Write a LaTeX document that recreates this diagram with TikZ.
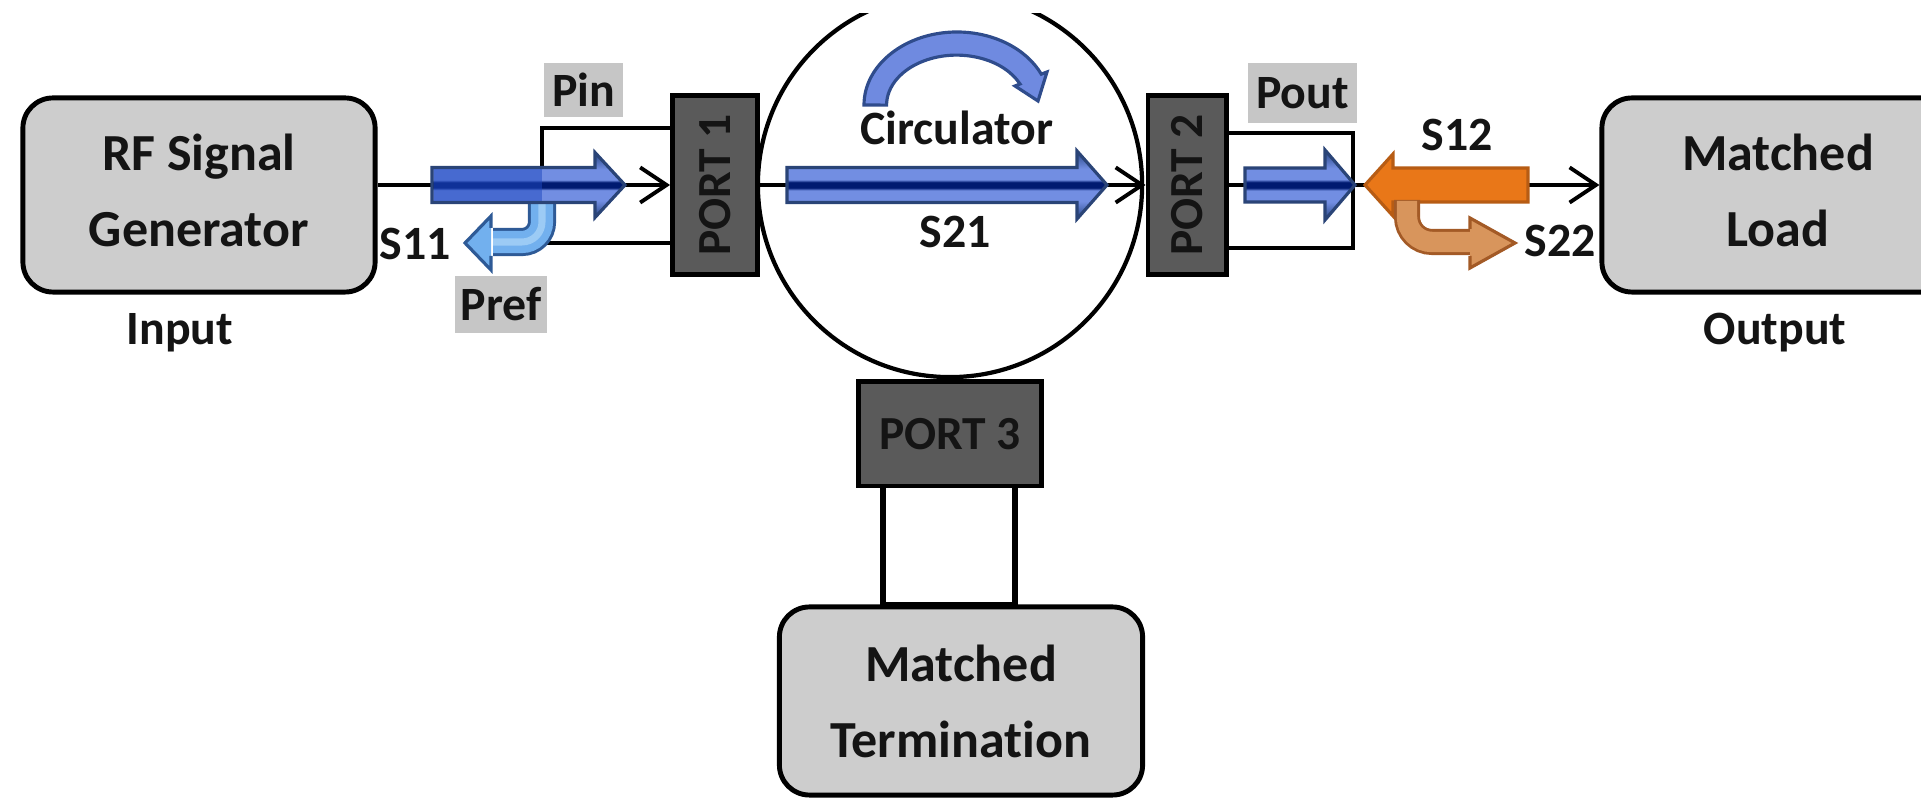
\documentclass[tikz,border=0pt]{standalone}
\usepackage{fontspec}
\setmainfont{Carlito}[Ligatures=NoCommon]
\usepackage{graphicx}
\usetikzlibrary{arrows.meta}

\definecolor{boxgray}{HTML}{CDCDCD}
\definecolor{lblgray}{HTML}{C6C6C6}
\definecolor{portgray}{HTML}{5A5A5A}
\definecolor{inkc}{HTML}{141414}
\definecolor{bmed}{HTML}{365497}
\definecolor{blight}{HTML}{728EE2}
\definecolor{bnavy}{HTML}{001A70}
\definecolor{bline}{HTML}{2A4477}
\definecolor{bsat}{HTML}{1E48C0}
\definecolor{skyfill}{HTML}{72B0EE}
\definecolor{skylight}{HTML}{9CCBF5}
\definecolor{skyline}{HTML}{2E5A96}
\definecolor{orfill}{HTML}{E97718}
\definecolor{orline}{HTML}{B75C14}
\definecolor{tanfill}{HTML}{D8955C}
\definecolor{tanline}{HTML}{A35A26}
\definecolor{arcfill}{HTML}{6F8AE0}
\definecolor{arcline}{HTML}{2F4C8C}

% banded fill of the blue block arrows
\pgfdeclareverticalshading{bluebar}{100bp}{color(0bp)=(bmed); color(28bp)=(bmed);
  color(38bp)=(blight); color(46bp)=(blight); color(48bp)=(bnavy); color(52bp)=(bnavy);
  color(54bp)=(blight); color(62bp)=(blight); color(72bp)=(bmed); color(100bp)=(bmed)}

% straight block arrow: [style]{tail x}{tip x}{y}{shaft half}{head half}{head length (signed)}
\newcommand\blockarrow[7][]{%
  \path[#1] (#2,{#4-#5}) -- ({#3-#7},{#4-#5}) -- ({#3-#7},{#4-#6}) -- (#3,#4)
    -- ({#3-#7},{#4+#6}) -- ({#3-#7},{#4+#5}) -- (#2,{#4+#5}) -- cycle;}

\begin{document}
\begin{tikzpicture}[x=0.01cm, y=-0.01cm,
  box/.style={draw=black, line width=1.4pt, fill=boxgray, rounded corners=0.3cm,
    align=center, text=inkc, inner sep=0,
    font=\bfseries\fontsize{14.8}{21.6}\selectfont},
  port/.style={draw=black, line width=1.4pt, fill=portgray, text=inkc, inner sep=0,
    font=\bfseries\fontsize{13.5}{16}\selectfont},
  lbl/.style={text=inkc, inner sep=0, font=\bfseries\fontsize{13.6}{16}\selectfont},
  tag/.style={lbl, fill=lblgray},
  conn/.style={line width=1.1pt, -{Straight Barb[length=7.5pt,width=10pt]}},
  frame/.style={line width=1.3pt},
  bluearrow/.style={shade, shading=bluebar, draw=bline, line width=0.9pt, line join=miter},
  orarrow/.style={fill=orfill, draw=orline, line width=0.9pt, line join=miter}]

\useasboundingbox (0,0) rectangle (1921,798);
\clip (0,0) rectangle (1921,798);

% circulator body
\begin{scope}
  \clip (0,14) rectangle (1921,798);
  \node[circle, draw, line width=1.2pt, minimum size=3.84cm, inner sep=0] (circ) at (950,185) {};
\end{scope}

% helper coordinates for the port frames
\coordinate (pinL) at (542,128);
\coordinate (pinB) at (542,243);
\coordinate (poutR) at (1353,133);
\coordinate (poutB) at (1353,248);
\coordinate (lk1) at (883,0);
\coordinate (lk2) at (1015,0);

% ports (placed first so frames can refer to them, drawn over by nothing)
\node[port, minimum width=0.85cm, minimum height=1.78cm] (p1) at (715,185) {\rotatebox{90}{PORT 1}};
\node[port, minimum width=0.78cm, minimum height=1.78cm] (p2) at (1187,185) {\rotatebox{90}{PORT 2}};
\node[port, minimum width=1.82cm, minimum height=1.04cm] (p3) at (950,434) {PORT 3};

% blocks
\node[box, minimum width=3.52cm, minimum height=1.94cm] (rf) at (199,195)
  {RF Signal\\Generator\rule[-2.6pt]{0pt}{2.6pt}};
\node[box, minimum width=3.52cm, minimum height=1.94cm] (load) at (1778,195)
  {Matched\\Load\rule[-2.6pt]{0pt}{2.6pt}};
\node[box, minimum width=3.63cm, minimum height=1.88cm] (term) at (961,701)
  {Matched\\Termination};

% signal path
\draw[conn] (rf.east |- p1.west) -- (p1.west);
\draw[conn] (p1.east) -- (p2.west);
\draw[conn] (p2.east) -- (load.west |- p2.east);

% frames at the ports
\draw[frame] (p1.west |- pinL) -- (pinL) -- (pinB) -- (p1.west |- pinB);
\draw[frame] (p2.east |- poutR) -- (poutR) -- (poutB) -- (p2.east |- poutB);
\draw[frame, line width=1.5pt] (p3.south -| lk1) -- (term.north -| lk1)
  -- (term.north -| lk2) -- (p3.south -| lk2);

% reflected wave at the input
\draw[skyline, line width=8pt, rounded corners=0.2cm] (542,196) -- (542,242) -- (493,242);
\draw[skyfill, line width=6.3pt, rounded corners=0.2cm] (542,196) -- (542,242) -- (493,242);
\draw[skylight, line width=2pt, rounded corners=0.2cm] (542,198) -- (542,242) -- (493,242);
\fill[skyfill] (491,216) -- (465,243) -- (491,270) -- cycle;
\draw[skyline, line width=0.9pt, line join=miter] (491,228) -- (491,216) -- (465,243) -- (491,270) -- (491,256);

% incident and transmitted waves
\blockarrow[bluearrow]{432}{625}{185}{17.5}{32.5}{30}
\fill[bsat, opacity=.5] (434,169) rectangle (542,201);
\blockarrow[bluearrow]{787}{1107}{185}{17.5}{34}{30}
\blockarrow[bluearrow]{1245}{1355}{185}{17}{35}{30}

% wave travelling back from the load, and its reflection
\blockarrow[orarrow]{1528}{1365}{185}{17}{31}{-28}
\draw[tanline, line width=7.4pt, rounded corners=0.25cm] (1407,200) -- (1407,242) -- (1472,242);
\draw[tanfill, line width=5.8pt, rounded corners=0.25cm] (1407,201) -- (1407,242) -- (1472,242);
\fill[tanfill] (1470,218) -- (1515,243) -- (1470,268) -- cycle;
\draw[tanline, line width=0.9pt, line join=miter] (1470,229) -- (1470,218) -- (1515,243) -- (1470,268) -- (1470,256);

% sense of rotation of the circulator
\path[fill=arcfill, draw=arcline, line width=0.9pt, line join=miter]
  (864,105) arc[start angle=180, end angle=335, x radius=93, y radius=73]
  -- (1047,72) -- (1038,101) -- (1015,86) -- (1020,84)
  arc[start angle=335, end angle=180, x radius=70, y radius=50] -- cycle;

% power tags
\node[tag, minimum width=0.79cm, minimum height=0.54cm] (pin) at (583.5,90) {Pin};
\node[tag, minimum width=0.92cm, minimum height=0.57cm] (pref) at (501,304.5) {Pref};
\node[tag, minimum width=1.09cm, minimum height=0.60cm] (pout) at (1302.5,93) {Pout};

% labels
\node[lbl, anchor=base] (tin) at (180,345) {Input};
\node[lbl, anchor=base] (tout) at (1775,345) {Output};
\node[lbl, anchor=base] (ts11) at (415,260) {S11};
\node[lbl, anchor=base] (tcirc) at (957,145) {Circulator};
\node[lbl, anchor=base] (ts21) at (955,248) {S21};
\node[lbl, anchor=base] (ts12) at (1457,151) {S12};
\node[lbl, anchor=base] (ts22) at (1560,257) {S22};
\end{tikzpicture}
\end{document}
